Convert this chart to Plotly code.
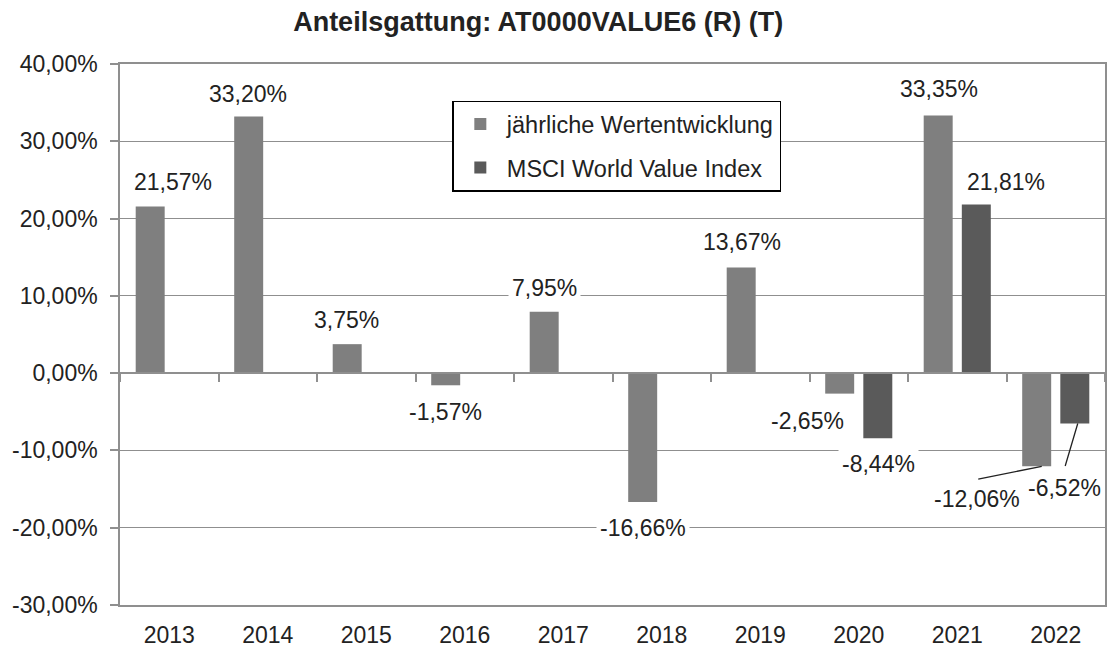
import plotly.graph_objects as go

# ---- data ----
years = ["2013", "2014", "2015", "2016", "2017", "2018", "2019", "2020", "2021", "2022"]
fund_returns = [0.2157, 0.3320, 0.0375, -0.0157, 0.0795, -0.1666, 0.1367, -0.0265, 0.3335, -0.1206]
msci_returns = [None, None, None, None, None, None, None, -0.0844, 0.2181, -0.0652]
series_names = ["jährliche Wertentwicklung", "MSCI World Value Index"]
y_tickvals = [-0.3, -0.2, -0.1, 0.0, 0.1, 0.2, 0.3, 0.4]
y_ticktext = ["-30,00%", "-20,00%", "-10,00%", "0,00%", "10,00%", "20,00%", "30,00%", "40,00%"]
title_text = "Anteilsgattung: AT0000VALUE6 (R) (T)"

# ---- styling ----
FONT = "Liberation Sans, Arial, sans-serif"
TXT = "#222222"
GRID = "#8f8f8f"
C1 = "#7f7f7f"
C2 = "#5a5a5a"
FS = 23
Y_MIN, Y_MAX = -0.3, 0.4


def fmt(v):
    return f"{v * 100:.2f}".replace(".", ",") + "%"


fig = go.Figure()
fig.add_trace(go.Bar(x=years, y=fund_returns, name=series_names[0], marker_color=C1,
                     marker_line_width=0, legendgroup="a", hoverinfo="skip"))
fig.add_trace(go.Bar(x=years, y=msci_returns, name=series_names[1], marker_color=C2,
                     marker_line_width=0, legendgroup="b", hoverinfo="skip"))
# helper trace for the category axis drawn along the zero line
fig.add_trace(go.Scatter(x=years, y=[0] * len(years), mode="none", xaxis="x2",
                         showlegend=False, hoverinfo="skip"))

# label offsets (pixels) relative to category centre / bar end: (xshift, yshift)
lbl1 = {
    "2013": (4, 24), "2014": (-20, 23), "2015": (-20, 24), "2016": (-19, -27),
    "2017": (-19, 24), "2018": (-19, -26), "2019": (-18, 25), "2020": (-51, -27),
    "2021": (-18, 26), "2022": (-79, -33),
}
lbl2 = {"2020": (20, -26), "2021": (49, 23), "2022": (9, -64)}
# leader lines: (xshift of line end at the bar, ax, ay)
lead1 = {"2022": (-14, -65, 13)}
lead2 = {"2022": (22, -13, 44)}

label_font = dict(family=FONT, size=FS, color=TXT)
for i, yr in enumerate(years):
    for vals, plain, lead in ((fund_returns, lbl1, lead1), (msci_returns, lbl2, lead2)):
        v = vals[i]
        if v is None:
            continue
        if yr in lead:
            dx, ax, ay = lead[yr]
            fig.add_annotation(x=i, y=v, xref="x", yref="y", text="", showarrow=True,
                               arrowhead=0, arrowwidth=1.3, arrowcolor=TXT, ax=ax, ay=ay,
                               axref="pixel", ayref="pixel", xshift=dx)
        if yr in plain:
            dx, dy = plain[yr]
            fig.add_annotation(x=i, y=v, xref="x", yref="y", text=fmt(v), showarrow=False,
                               xshift=dx, yshift=dy, bgcolor="white", borderpad=3,
                               font=label_font)

fig.update_layout(
    width=1109, height=650,
    margin=dict(l=120, r=2, t=64, b=42),
    paper_bgcolor="white", plot_bgcolor="white",
    barmode="group", bargap=0.226, bargroupgap=0.24,
    font=dict(family=FONT, size=FS, color=TXT),
    title=dict(text="<b>" + title_text + "</b>", x=(539 - 120) / 987, xref="paper",
               xanchor="center", y=1 - 22 / 650, yref="container", yanchor="middle",
               font=dict(family=FONT, size=27, color=TXT)),
    xaxis=dict(type="category", categoryorder="array", categoryarray=years,
               range=[-0.5, len(years) - 0.5], showgrid=False, showline=True, mirror=True,
               linecolor=GRID, linewidth=1.5, ticks="", ticklabelstandoff=9,
               tickfont=dict(family=FONT, size=FS, color=TXT), fixedrange=True),
    xaxis2=dict(type="category", categoryorder="array", categoryarray=years,
                range=[-0.5, len(years) - 0.5], overlaying="x", anchor="free",
                position=(0 - Y_MIN) / (Y_MAX - Y_MIN), showgrid=False, showline=True,
                linecolor=GRID, linewidth=1.5, ticks="outside", tickson="boundaries",
                ticklen=8, tickcolor=GRID, tickwidth=1.5, showticklabels=False,
                fixedrange=True),
    yaxis=dict(range=[Y_MIN, Y_MAX], tickvals=y_tickvals, ticktext=y_ticktext,
               showgrid=True, gridcolor=GRID, gridwidth=1.3, zeroline=False,
               showline=True, mirror=True, linecolor=GRID, linewidth=1.5,
               ticks="outside", ticklen=8, tickcolor=GRID, tickwidth=1.5,
               ticklabelstandoff=8,
               tickfont=dict(family=FONT, size=FS, color=TXT), fixedrange=True),
    legend=dict(x=(453 - 120) / 987, y=(608 - 101) / 544, xanchor="left", yanchor="top",
                bgcolor="white", bordercolor="#000000", borderwidth=1.5,
                tracegroupgap=10, itemwidth=43,
                font=dict(family=FONT, size=23.5, color=TXT)),
    showlegend=True,
)

fig.write_html("out.html", config={"displayModeBar": False},
               post_script="document.body.style.margin='0';document.body.style.overflow='hidden';")
